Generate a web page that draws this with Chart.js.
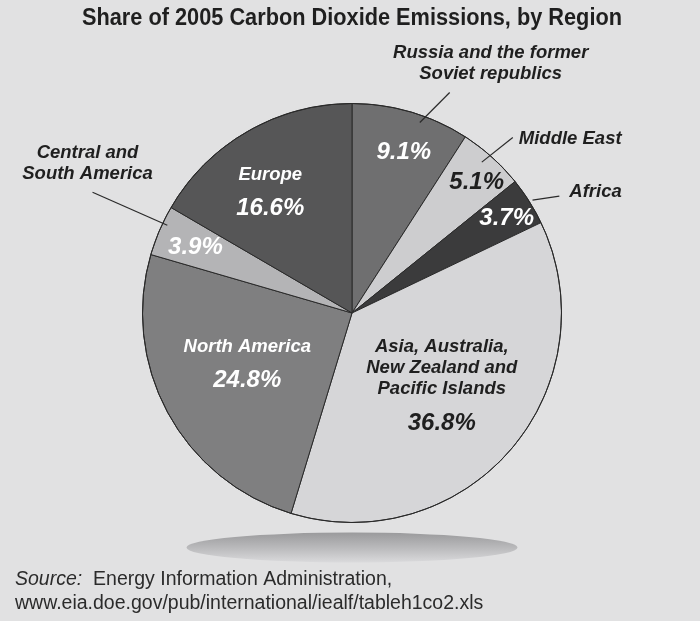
<!DOCTYPE html>
<html>
<head>
<meta charset="utf-8">
<script src="https://cdn.jsdelivr.net/npm/chart.js@4.4.1/dist/chart.umd.min.js"></script>
<style>
html,body{margin:0;padding:0;background:#e1e1e2;}
#wrap{width:700px;height:621px;position:relative;}
</style>
</head>
<body>
<div id="wrap"><canvas id="c" width="700" height="621"></canvas></div>
<script>
// ---- data ----
const titleText = 'Share of 2005 Carbon Dioxide Emissions, by Region';
const regions = [
  'Russia and the former Soviet republics',
  'Middle East',
  'Africa',
  'Asia, Australia, New Zealand and Pacific Islands',
  'North America',
  'Central and South America',
  'Europe'
];
const shares = [9.1, 5.1, 3.7, 36.8, 24.8, 3.9, 16.6];
const sourceLabel = 'Source:';
const sourceLines = ['Energy Information Administration,', 'www.eia.doe.gov/pub/international/iealf/tableh1co2.xls'];

// ---- style ----
const sliceColors = ['#6f6f70', '#cdcdcf', '#3b3b3c', '#d6d6d8', '#7f7f80', '#b4b4b6', '#565657'];
const BG = '#e1e1e2';
const DARK = '#1f1f1f';
const FONT = '"Liberation Sans", Arial, Helvetica, sans-serif';

// inside-label placement: angle tweak (deg), radius fraction, name lines inside, offsets
const inside = [
  {da: 1.5,  rf: 0.806, names: [], nameDy: [], pctDy: 0, color: '#ffffff'},
  {da: 1.7,  rf: 0.862, names: [], nameDy: [], pctDy: 0, color: DARK},
  {da: 0.7,  rf: 0.866, names: [], nameDy: [], pctDy: 0, color: '#ffffff'},
  {da: -2.0, rf: 0.549, names: ['Asia, Australia,', 'New Zealand and', 'Pacific Islands'], nameDy: [-38, -17, 4], pctDy: 38, color: DARK},
  {da: 2.9,  rf: 0.554, names: ['North America'], nameDy: [-16], pctDy: 17, color: '#ffffff'},
  {da: -0.4, rf: 0.811, names: [], nameDy: [], pctDy: 0, color: '#ffffff'},
  {da: -4.0, rf: 0.70,  names: ['Europe'], nameDy: [-16], pctDy: 17, color: '#ffffff'}
];
// outside labels with leader lines (angles in deg from 12 o'clock, radius fractions)
const outside = [
  {i: 0, a1: 19.6, r1: 0.965, a2: 23.9, r2: 1.151, lines: ['Russia and the former', 'Soviet republics'], dx: 41, dy: [-40, -19], align: 'center'},
  {i: 1, a1: 40.7, r1: 0.95, a2: 42.5, r2: 1.136, lines: ['Middle East'], dx: 6, dy: [1], align: 'left'},
  {i: 2, a1: 58.0, r1: 1.016, a2: 60.6, r2: 1.136, lines: ['Africa'], dx: 10, dy: [-4], align: 'left'},
  {i: 5, a1: 295.4, r1: 0.976, a2: 294.95, r2: 1.366, lines: ['Central and', 'South America'], dx: -5, dy: [-39, -18], align: 'center'}
];

function polar(cx, cy, r, deg) {
  const t = deg * Math.PI / 180;
  return {x: cx + r * Math.sin(t), y: cy - r * Math.cos(t)};
}

const decor = {
  id: 'decor',
  beforeDraw(chart) {
    const ctx = chart.ctx;
    ctx.save();
    ctx.fillStyle = BG;
    ctx.fillRect(0, 0, chart.width, chart.height);
    // shadow ellipse below pie
    const meta = chart.getDatasetMeta(0);
    const el = meta.data[0];
    const cx = el.x, R = el.outerRadius;
    const ey = el.y + R + 25, rx = R * 0.79, ry = 15;
    const g = ctx.createLinearGradient(0, ey - ry, 0, ey + ry);
    g.addColorStop(0, '#9a9a9c');
    g.addColorStop(0.5, '#b9b9bb');
    g.addColorStop(1, '#dadadc');
    ctx.fillStyle = g;
    ctx.beginPath();
    ctx.ellipse(cx, ey, rx, ry, 0, 0, Math.PI * 2);
    ctx.fill();
    ctx.restore();
  },
  afterDatasetsDraw(chart) {
    const ctx = chart.ctx;
    const meta = chart.getDatasetMeta(0);
    const el0 = meta.data[0];
    const cx = el0.x, cy = el0.y, R = el0.outerRadius;
    ctx.save();
    // outer ring line
    ctx.strokeStyle = '#2a2a2a';
    ctx.lineWidth = 1;
    ctx.beginPath();
    ctx.arc(cx, cy, R, 0, Math.PI * 2);
    ctx.stroke();
    ctx.textBaseline = 'middle';
    // inside labels
    meta.data.forEach((el, i) => {
      const cfg = inside[i];
      const mid = ((el.startAngle + el.endAngle) / 2 + Math.PI / 2) * 180 / Math.PI;
      const p = polar(cx, cy, R * cfg.rf, mid + cfg.da);
      ctx.fillStyle = cfg.color;
      ctx.textAlign = 'center';
      ctx.font = 'italic bold 18.5px ' + FONT;
      cfg.names.forEach((n, k) => ctx.fillText(n, p.x, p.y + cfg.nameDy[k]));
      ctx.font = 'italic bold 24px ' + FONT;
      ctx.fillText(shares[i].toFixed(1) + '%', p.x, p.y + cfg.pctDy);
    });
    // outside labels + leaders
    outside.forEach(o => {
      const a = polar(cx, cy, R * o.r1, o.a1);
      const b = polar(cx, cy, R * o.r2, o.a2);
      ctx.strokeStyle = '#2a2a2a';
      ctx.lineWidth = 1.2;
      ctx.beginPath();
      ctx.moveTo(a.x, a.y);
      ctx.lineTo(b.x, b.y);
      ctx.stroke();
      ctx.fillStyle = DARK;
      ctx.font = 'italic bold 18.5px ' + FONT;
      ctx.textAlign = o.align;
      o.lines.forEach((t, k) => ctx.fillText(t, b.x + o.dx, b.y + o.dy[k]));
    });
    // title (condensed bold)
    ctx.font = 'bold 23px ' + FONT;
    ctx.textAlign = 'center';
    const w = ctx.measureText(titleText).width;
    const sx = Math.min(1, 540 / w);
    ctx.save();
    ctx.translate(352, 19);
    ctx.scale(sx, 1);
    ctx.fillStyle = DARK;
    ctx.fillText(titleText, 0, 0);
    ctx.restore();
    // source
    ctx.textAlign = 'left';
    ctx.fillStyle = '#2b2b2b';
    ctx.font = 'italic 19.5px ' + FONT;
    ctx.fillText(sourceLabel, 15, 580);
    const sw = ctx.measureText(sourceLabel + '  ').width;
    ctx.font = '19.5px ' + FONT;
    ctx.fillText(sourceLines[0], 15 + sw, 580);
    ctx.fillText(sourceLines[1], 15, 604);
    ctx.restore();
  }
};

new Chart(document.getElementById('c'), {
  type: 'pie',
  data: {
    labels: regions,
    datasets: [{
      data: shares,
      backgroundColor: sliceColors,
      borderColor: '#2a2a2a',
      borderWidth: 1,
      hoverOffset: 0
    }]
  },
  options: {
    responsive: false,
    devicePixelRatio: 1,
    animation: false,
    events: [],
    layout: {padding: {top: 103, bottom: 98, left: 4, right: 0}},
    plugins: {
      legend: {display: false},
      tooltip: {enabled: false},
      title: {display: false}
    }
  },
  plugins: [decor]
});
</script>
</body>
</html>
